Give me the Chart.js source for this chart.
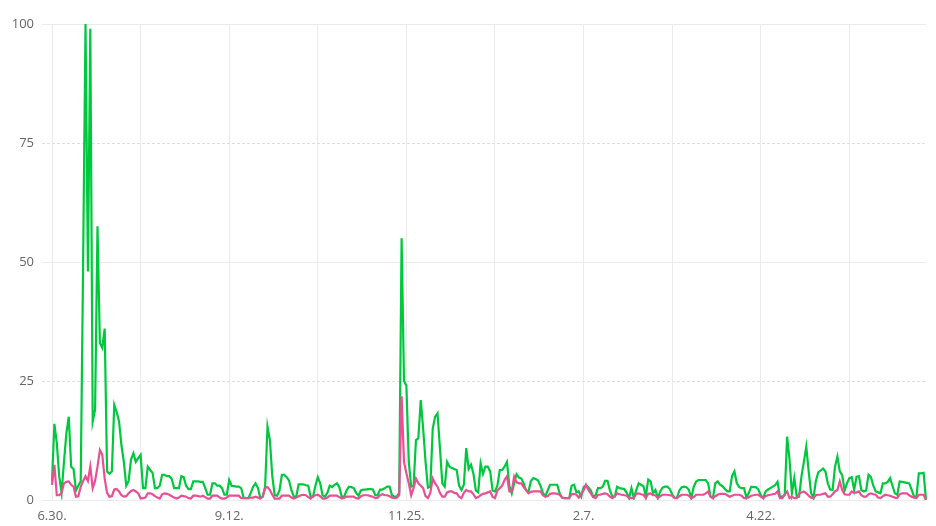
<!DOCTYPE html>
<html>
<head>
<meta charset="utf-8">
<script src="https://cdn.jsdelivr.net/npm/chart.js@4/dist/chart.umd.min.js"></script>
<style>
  html, body { margin: 0; padding: 0; background: #fff; }
  #wrap { width: 936px; height: 526px; }
</style>
</head>
<body>
<div id="wrap"><canvas id="chart" width="936" height="526"></canvas></div>
<script>
// one point per day, starting 2022-06-30
const startDate = new Date(2022, 5, 30);
const dayCount = 366;

const xTickLabels = ['6.30.', '9.12.', '11.25.', '2.7.', '4.22.'];
const yTicks = [0, 25, 50, 75, 100];

const greenSeries = [
  4, 16, 12, 5, 1.5, 8, 14, 17.5, 7, 6.5,
  2, 3, 4, 50, 100, 48, 99, 16.5, 19, 57.5,
  33, 32, 36, 6, 5.5, 6, 20, 18.5, 16.5, 11.5,
  8, 3, 4, 8.5, 9.8, 8, 8.8, 9.5, 2.5, 2.5,
  7, 6.3, 5.7, 2.5, 2.5, 3, 5.3, 5.3, 5, 5,
  4.4, 2.5, 2.5, 2.5, 5, 4.8, 3, 2.3, 2.3, 3.9,
  3.9, 3.9, 3.8, 3.8, 2.5, 1.1, 1.1, 3.5, 3.5, 3,
  3, 2.5, 1.1, 1.1, 4.2, 3, 2.9, 2.8, 2.8, 2.5,
  0.5, 0.4, 0.4, 1.5, 2.8, 3.5, 2.5, 0.4, 0.7, 2.8,
  15.4, 12.6, 5, 1, 0.9, 2, 5.3, 5.3, 4.8, 4.1,
  2, 0.7, 0.7, 3.3, 3.3, 3.3, 3.1, 3, 0.7, 0.7,
  3, 4.8, 3.5, 1, 0.7, 1.5, 3, 2.7, 3.2, 3.5,
  2.7, 0.7, 0.7, 2, 2.8, 2.7, 2.5, 1.5, 0.9, 2,
  2.2, 2.2, 2.3, 2.3, 2.2, 1, 1, 2.2, 2.2, 2.5,
  2.8, 2.8, 1, 0.7, 0.7, 1.5, 55, 25, 24, 8,
  2.8, 3, 12.6, 13, 21, 15, 8, 2.6, 2.8, 15,
  17.5, 18.2, 11, 3.5, 2.8, 8, 7, 6.7, 6.5, 6.3,
  3, 2.1, 3.2, 10.9, 6.5, 7.4, 5.5, 2, 1.6, 7.7,
  5.5, 7, 7, 6, 2, 1.8, 3, 6.3, 6.3, 7,
  8, 3, 1.4, 3.5, 5.4, 4.7, 4.5, 3.5, 2, 1.8,
  4, 4.6, 4.4, 4.1, 3, 1.5, 0.8, 2, 3.2, 3.2,
  3.2, 3.2, 1.4, 0.5, 0.4, 0.4, 0.4, 3, 3.2, 1.6,
  1.8, 0.7, 2.7, 3.1, 2.7, 2, 0.7, 1, 2.5, 2.5,
  2.8, 4, 4, 2, 0.7, 0.7, 2.8, 2.5, 2.4, 2.3,
  1.5, 0.4, 2.5, 0.4, 2.1, 3.5, 3.2, 2.9, 0.8, 4.3,
  3.9, 1.4, 2.1, 0.4, 1.8, 2.6, 2.8, 2.8, 2.3, 1.2,
  0.5, 0.4, 2, 2.7, 2.8, 2.7, 2.1, 0.4, 2.8, 3.9,
  4.2, 4.2, 4.2, 4.2, 3.5, 0.8, 0.4, 3.5, 3.9, 3.2,
  2.9, 2.3, 1.8, 1.8, 5, 6, 3.5, 2.7, 2.5, 2.5,
  0.5, 1.5, 2.8, 2.7, 2.7, 2.2, 1, 0.4, 1.8, 2.2,
  2.5, 2.8, 3.1, 3.8, 0.7, 0.7, 1, 13.3, 8.5, 1.4,
  4.6, 0.7, 0.7, 5, 8, 11.2, 6, 1.5, 0.4, 4,
  5.8, 6.2, 6.6, 6, 3.5, 2.2, 2.1, 7, 9.1, 6,
  5.2, 2, 3.5, 4.6, 4.8, 2.1, 4.9, 5, 2.1, 1.8,
  2, 5.3, 4.8, 3, 1.8, 1.6, 1.4, 3.5, 3.5, 3.8,
  4.6, 3, 1.4, 1.1, 3.9, 3.8, 3.7, 3.6, 3.5, 2.2,
  0.7, 0.7, 5.6, 5.6, 5.7, 0
];

const pinkSeries = [
  3.2, 7.4, 1, 1, 1.5, 3.5, 3.8, 3.9, 3.2, 2.8,
  0.7, 0.8, 2.8, 4, 5, 4, 7, 2.5, 4, 7,
  10.5, 9.5, 4.5, 1.5, 0.7, 0.8, 2.2, 2.3, 1.8, 1,
  0.7, 0.8, 1.4, 1.9, 2.1, 1.8, 1.4, 0.3, 0.4, 0.5,
  1.4, 1.4, 1.2, 0.8, 0.5, 0.3, 1.2, 1.4, 1.3, 1.1,
  0.8, 0.5, 0.3, 0.5, 0.9, 0.8, 0.7, 0.4, 0.3, 0.9,
  0.9, 0.8, 0.7, 0.9, 0.6, 0.3, 0.3, 0.9, 0.9, 0.9,
  0.5, 0.3, 0.3, 0.5, 0.9, 0.9, 0.9, 0.9, 0.9, 0.4,
  0.4, 0.4, 0.4, 0.5, 0.5, 0.7, 0.5, 0.3, 0.7, 2.5,
  2.7, 2.1, 1.1, 0.3, 0.3, 0.3, 0.9, 0.9, 0.9, 0.9,
  0.5, 0.3, 0.5, 0.8, 1, 1.1, 1, 0.6, 0.3, 0.8,
  1, 1.1, 0.8, 0.3, 0.3, 0.5, 0.9, 0.9, 0.9, 0.9,
  0.6, 0.3, 0.5, 0.7, 0.7, 0.7, 0.7, 0.4, 0.3, 0.8,
  1, 1, 1, 0.8, 0.7, 0.4, 0.5, 1, 1.2, 1,
  1, 0.8, 0.5, 0.4, 0.5, 1, 21.8, 8, 5.6, 3.5,
  1, 2.5, 4.5, 3.5, 3, 2.5, 0.8, 0.4, 1.5, 4.5,
  3.5, 2.8, 1.5, 0.7, 0.7, 1.6, 1.8, 1.8, 1.5, 1.4,
  0.7, 0.4, 1.5, 2.1, 1.8, 1.8, 1.2, 0.4, 0.6, 1,
  1.3, 1.4, 1.6, 1.8, 0.7, 0.4, 2, 2.5, 3, 4.2,
  5, 1.8, 1.8, 4.9, 3.7, 3.5, 3.5, 2.7, 2.1, 1.4,
  1.7, 1.8, 1.8, 1.8, 1.8, 1, 0.7, 0.8, 1.3, 1.4,
  1.4, 1.3, 1.1, 0.5, 0.4, 0.4, 0.4, 1.2, 1.3, 1.1,
  0.5, 1.3, 2, 3.2, 2.1, 1.4, 0.6, 0.4, 1.1, 1.1,
  1.3, 1.4, 1.2, 0.7, 0.4, 0.8, 1.4, 1.2, 1.1, 1,
  0.9, 0.4, 0.4, 0.5, 1.3, 1.4, 1.2, 1.1, 0.4, 1.3,
  1.4, 1, 1, 0.4, 0.8, 1.1, 1.1, 1.1, 1, 0.9,
  0.4, 0.4, 0.8, 1.1, 1.1, 1.1, 0.9, 0.4, 0.6, 1.1,
  1.1, 1.1, 1.1, 1.4, 1.8, 0.7, 0.4, 0.8, 1.1, 1.3,
  1.3, 1.3, 1, 0.7, 0.9, 1.1, 1.1, 1.1, 0.9, 0.4,
  0.4, 0.6, 0.9, 1, 1.1, 1.1, 0.7, 0.4, 0.8, 1,
  1.1, 1.2, 1.3, 1.8, 0.4, 0.4, 1.2, 1.8, 0.4, 0.7,
  0.4, 0.4, 1.3, 1.6, 1.8, 1.4, 0.9, 0.5, 0.4, 1,
  1.1, 1.1, 1.3, 1.4, 0.7, 0.7, 1.2, 1.8, 2.1, 3.9,
  2.1, 1.2, 1.1, 1.1, 1.8, 1.5, 1.6, 1.8, 1, 0.7,
  0.7, 1.2, 1.4, 1.2, 1.1, 0.5, 0.4, 0.8, 1.1, 1,
  0.9, 0.7, 0.5, 0.4, 1.2, 1.4, 1.4, 1.4, 1, 0.7,
  0.5, 0.4, 1.1, 1.1, 1.1, 0
];

// day labels like "6.30."
const labels = [];
for (let i = 0; i < dayCount; i++) {
    const d = new Date(startDate);
    d.setDate(d.getDate() + i);
    labels.push((d.getMonth() + 1) + '.' + d.getDate() + '.');
}

const font = { family: '"Open Sans", sans-serif', size: 13 };

new Chart(document.getElementById('chart'), {
    type: 'line',
    data: {
        labels: labels,
        datasets: [
            {
                label: 'pink',
                data: pinkSeries,
                borderColor: '#ea4f93',
                borderWidth: 2.2,
                pointRadius: 0,
                tension: 0,
                fill: false
            },
            {
                label: 'green',
                data: greenSeries,
                borderColor: '#00c83e',
                borderWidth: 2.2,
                pointRadius: 0,
                tension: 0,
                fill: false
            }
        ]
    },
    options: {
        responsive: false,
        animation: false,
        layout: { padding: { top: 24, right: 10, left: 0, bottom: 0 } },
        plugins: {
            legend: { display: false },
            tooltip: { enabled: false }
        },
        scales: {
            x: {
                afterFit: s => { s.height = 26; },
                grid: {
                    drawTicks: false,
                    color: ctx => (ctx.index % 37 === 0 ? '#ebebeb' : 'rgba(0,0,0,0)')
                },
                border: { display: false },
                ticks: {
                    autoSkip: false,
                    maxRotation: 0,
                    minRotation: 0,
                    padding: 8,
                    color: '#666',
                    font: font,
                    callback: function (val, index) {
                        const lab = this.getLabelForValue(val);
                        return (xTickLabels.includes(lab) && labels.indexOf(lab) === index) ? lab : '';
                    }
                }
            },
            y: {
                min: 0,
                max: 100,
                afterBuildTicks: s => { s.ticks = yTicks.map(v => ({ value: v })); },
                afterFit: s => { s.width = 52; },
                grid: {
                    tickLength: 10,
                    color: ctx => (ctx.tick && ctx.tick.value % 50 !== 0 ? '#dedede' : '#ebebeb'),
                    tickBorderDash: ctx => (ctx.tick && ctx.tick.value % 50 !== 0 ? [3, 2] : [])
                },
                border: {
                    display: false,
                    dash: ctx => (ctx.tick && ctx.tick.value % 50 !== 0 ? [3, 2] : [])
                },
                ticks: {
                    padding: 8,
                    color: '#666',
                    font: font
                }
            }
        }
    }
});
</script>
</body>
</html>
